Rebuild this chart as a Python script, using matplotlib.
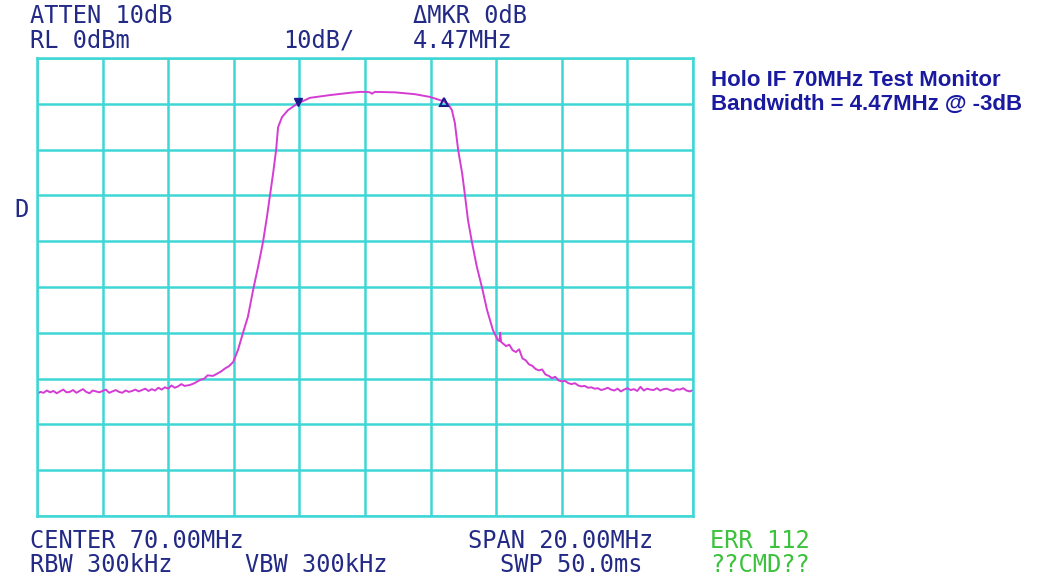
import matplotlib.pyplot as plt
import numpy as np

# spectrum analyzer sweep: 70 MHz centre, 20 MHz span, RL 0 dBm, 10 dB/div
left_noise_mhz = np.linspace(60.0, 64.5, 46)
left_noise_dbm = [-73.4, -72.9, -73.1, -72.6, -73.0, -72.7, -73.2, -72.8, -72.4, -73.0,
                  -72.9, -72.5, -73.1, -72.7, -72.3, -72.9, -73.2, -72.6, -72.8, -73.0,
                  -72.7, -72.4, -73.1, -72.8, -72.5, -72.9, -73.1, -72.6, -72.9, -72.7,
                  -72.4, -72.8, -72.5, -72.2, -72.7, -72.3, -72.6, -72.0, -72.4, -71.9,
                  -72.2, -71.5, -72.0, -71.7, -71.2, -71.6]

band_mhz = [64.66, 64.80, 64.97, 65.10, 65.20, 65.37, 65.50, 65.60, 65.73, 65.85,
            65.98, 66.13, 66.28, 66.43, 66.59, 66.74, 66.89, 67.01, 67.10, 67.20,
            67.29, 67.35, 67.47, 67.65, 67.93, 68.32, 68.93, 69.54, 69.85, 70.06,
            70.15, 70.21, 70.30, 70.91, 71.52, 71.98, 72.38, 72.53, 72.65, 72.74,
            72.84, 72.96, 73.05, 73.14, 73.26, 73.41, 73.57, 73.72, 73.90, 74.05,
            74.10, 74.12, 74.15, 74.20, 74.30, 74.40, 74.50, 74.60, 74.70, 74.80,
            74.90, 75.00, 75.10, 75.20, 75.30, 75.40, 75.50, 75.60, 75.70, 75.80,
            75.90, 76.00, 76.10, 76.20, 76.30, 76.40, 76.50, 76.60, 76.70, 76.80]
band_dbm = [-71.4, -71.0, -70.3, -70.0, -69.3, -69.4, -68.9, -68.5, -67.8, -67.3,
            -66.4, -63.7, -60.0, -56.5, -50.6, -45.6, -40.2, -34.7, -30.1, -25.1,
            -20.1, -15.1, -12.9, -11.4, -10.0, -8.7, -8.1, -7.6, -7.4, -7.4,
            -7.5, -7.8, -7.4, -7.5, -7.9, -8.5, -9.4, -10.0, -11.4, -14.2,
            -20.1, -25.1, -30.1, -35.4, -40.2, -45.6, -50.2, -55.0, -59.4, -61.6,
            -61.8, -60.0, -62.0, -62.3, -62.9, -62.6, -63.8, -64.2, -63.6, -65.6,
            -66.0, -66.9, -67.2, -67.9, -68.2, -68.0, -69.1, -69.4, -69.9, -69.6,
            -70.4, -70.6, -70.5, -71.0, -71.2, -71.0, -71.5, -71.7, -71.6, -72.0]

right_noise_mhz = np.linspace(76.9, 80.0, 32)
right_noise_dbm = [-71.9, -72.2, -72.1, -72.5, -72.3, -72.0, -72.4, -72.6, -72.2, -72.8,
                   -72.4, -72.1, -72.5, -72.3, -72.7, -71.8, -72.6, -72.2, -72.4, -72.5,
                   -72.1, -72.6, -72.3, -72.2, -72.5, -72.7, -72.3, -72.4, -72.1, -72.6,
                   -72.8, -72.5]

marker_mhz = [67.95, 72.42]
marker_dbm = [-9.5, -9.5]

freq = np.concatenate([left_noise_mhz, band_mhz, right_noise_mhz])
level = np.concatenate([left_noise_dbm, band_dbm, right_noise_dbm])

grid_col = "#3fd6d6"
trace_col = "#d43cd4"
text_col = "#232a86"
err_col = "#3cc23c"

fig = plt.figure(figsize=(10.4, 5.78), dpi=100)
ax = fig.add_axes([37 / 1040, 1 - 516 / 578, 656 / 1040, 458 / 578])

ax.plot(freq, level, color=trace_col, lw=1.4)
ax.plot(marker_mhz[0], marker_dbm[0], marker="v", ms=6, color="#1a1a90")
ax.plot(marker_mhz[1], marker_dbm[1], marker="^", ms=6, mfc="none", mec="#1a1a90", mew=1.5)

ax.set_xlim(60, 80)
ax.set_ylim(-100, 0)
ax.set_xticks(np.arange(60, 81, 2))
ax.set_yticks(np.arange(-100, 1, 10))
ax.tick_params(length=0, labelbottom=False, labelleft=False)
ax.grid(True, color=grid_col, lw=1.8)
for s in ax.spines.values():
    s.set_color(grid_col)
    s.set_linewidth(1.8)

mono = dict(family="DejaVu Sans Mono", fontsize=17, color=text_col, va="center")

def put(x, y, s, **kw):
    opts = dict(mono)
    opts.update(kw)
    fig.text(x / 1040, 1 - y / 578, s, **opts)

put(30, 16, "ATTEN 10dB")
put(30, 41, "RL 0dBm")
put(283, 41, "10dB/")
put(413, 16, "\u0394MKR 0dB")
put(413, 41, "4.47MHz")
put(14, 210, "D")

put(30, 541, "CENTER 70.00MHz")
put(30, 565, "RBW 300kHz")
put(245, 565, "VBW 300kHz")
put(468, 541, "SPAN 20.00MHz")
put(500, 565, "SWP 50.0ms")
put(710, 541, "ERR 112", color=err_col)
put(710, 565, "??CMD??", color=err_col)

title = dict(family="Liberation Sans", fontsize=16, fontweight="bold",
             color="#1a1aa0", va="center")
fig.text(711 / 1040, 1 - 80 / 578, "Holo IF 70MHz Test Monitor", **title)
fig.text(711 / 1040, 1 - 104 / 578, "Bandwidth = 4.47MHz @ -3dB", **title)

fig.savefig("out.png", dpi=100)
